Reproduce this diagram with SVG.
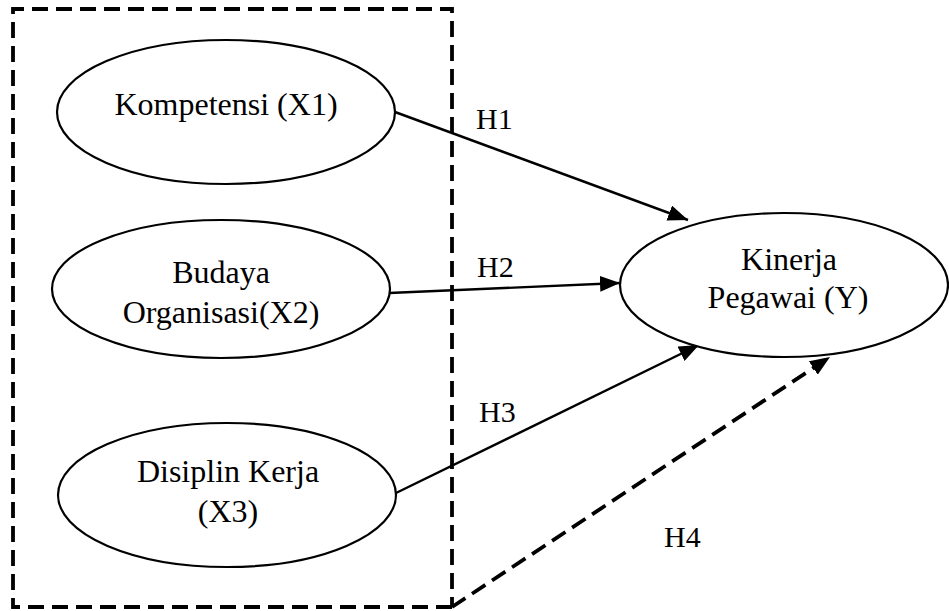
<svg xmlns="http://www.w3.org/2000/svg" width="949" height="611" viewBox="0 0 949 611">
<style>
.node ellipse{fill:#fff;stroke:#000;stroke-width:2.2}
text{font-family:"Liberation Serif","Times New Roman",serif;font-size:32px;fill:#000}
.lbl{font-size:30px}
.dash{fill:none;stroke:#000;stroke-width:3.8;stroke-dasharray:16 8}
.edge{fill:none;stroke:#000;stroke-width:2.4}
</style>
<defs>
<marker id="ah" viewBox="0 0 20 16" refX="20" refY="8" markerWidth="20" markerHeight="16" markerUnits="userSpaceOnUse" orient="auto">
<path d="M0,0 L20,8 L0,16 Z" fill="#000"/>
</marker>
</defs>
<g id="group-box">
<polyline class="dash" points="452,607 13,607 13,9 452,9 452,607"/>
</g>
<g id="connectors">
<line class="edge" x1="395" y1="112" x2="688" y2="220" marker-end="url(#ah)"/>
<line class="edge" x1="389" y1="293" x2="620" y2="283" marker-end="url(#ah)"/>
<line class="edge" x1="396" y1="493" x2="699" y2="345" marker-end="url(#ah)"/>
<line class="dash" x1="452" y1="607" x2="830" y2="357" marker-end="url(#ah)"/>
<text class="lbl" x="476" y="129">H1</text>
<text class="lbl" x="477" y="277">H2</text>
<text class="lbl" x="479" y="422">H3</text>
<text class="lbl" x="664" y="547">H4</text>
</g>
<g id="node-x1" class="node">
<ellipse cx="226" cy="112" rx="169" ry="72"/>
<text x="226" y="115" text-anchor="middle">Kompetensi (X1)</text>
</g>
<g id="node-x2" class="node">
<ellipse cx="221" cy="289" rx="169" ry="69"/>
<text x="221" y="283" text-anchor="middle">Budaya</text>
<text x="221" y="323" text-anchor="middle">Organisasi(X2)</text>
</g>
<g id="node-x3" class="node">
<ellipse cx="227" cy="495" rx="169" ry="72"/>
<text x="228" y="482" text-anchor="middle">Disiplin Kerja</text>
<text x="228" y="522" text-anchor="middle">(X3)</text>
</g>
<g id="node-y" class="node">
<ellipse cx="784" cy="285" rx="164" ry="72"/>
<text x="789" y="270" text-anchor="middle">Kinerja</text>
<text x="788" y="308" text-anchor="middle">Pegawai (Y)</text>
</g>
</svg>
